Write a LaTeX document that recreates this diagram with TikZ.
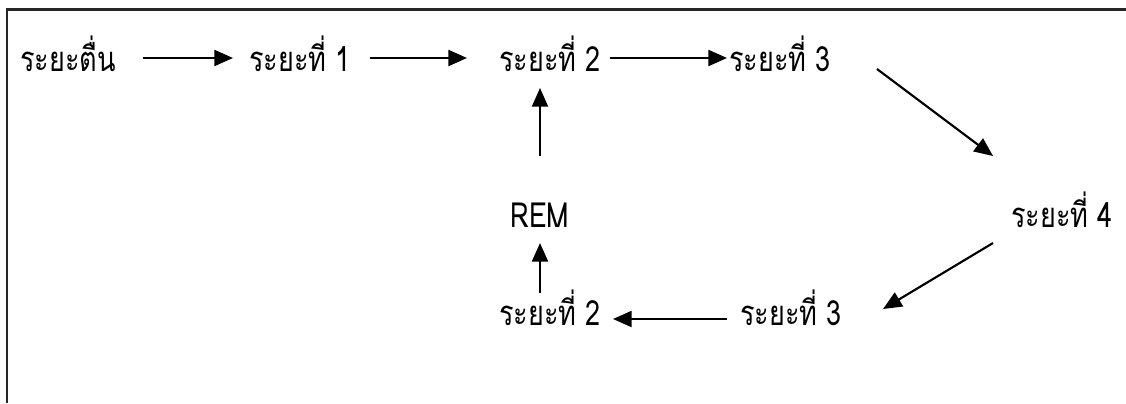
\documentclass[tikz,border=0pt]{standalone}
\usepackage{fontspec}
\newfontfamily\thaifont[Script=Thai,FakeStretch=0.78]{Loma}
\usetikzlibrary{arrows.meta,calc}

\tikzset{
  lbl/.style={inner sep=0pt, anchor=base, font=\thaifont\fontsize{26pt}{30pt}\selectfont},
  arr/.style={line width=1.6pt, -{Triangle[length=14pt,width=12pt]}},
  frame/.style={line width=1.6pt, draw=black!85}
}

\begin{document}
\begin{tikzpicture}[x=0.75pt,y=-0.75pt]
  \useasboundingbox (0,0) rectangle (1126,403);
  % open frame: top and left edges only
  \draw[frame] (1126,9.5) -- (7,9.5) -- (7,403);

  % stages
  \node[lbl] (n0) at (68,71) {ระยะตื่น};
  \node[lbl] (n1) at (300,71) {ระยะที่ 1};
  \node[lbl] (n2) at (550,71) {ระยะที่ 2};
  \node[lbl] (n3) at (780,71) {ระยะที่ 3};
  \node[lbl] (n4) at (1062,227) {ระยะที่ 4};
  \node[lbl] (rem) at (540,227) {REM};
  \node[lbl] (b3) at (791,325) {ระยะที่ 3};
  \node[lbl] (b2) at (550,325) {ระยะที่ 2};

  % transitions
  \draw[arr] ($(n0.base)+(75,-13)$) -- ($(n1.base)+(-67,-13)$);
  \draw[arr] ($(n1.base)+(70,-13)$) -- ($(n2.base)+(-83,-13)$);
  \draw[arr] ($(n2.base)+(60,-13)$) -- ($(n3.base)+(-53,-13)$);
  \draw[arr] ($(n3.base)+(97,-2)$) -- ($(n4.base)+(-69,-71)$);
  \draw[arr] ($(n4.base)+(-69,16)$) -- ($(b3.base)+(92,-16)$);
  \draw[arr] ($(b3.base)+(-64,-6)$) -- ($(b2.base)+(63,-6)$);
  \draw[arr] ($(b2.base)+(-10,-32)$) -- ($(rem.base)+(0,16)$);
  \draw[arr] ($(rem.base)+(0,-71)$) -- ($(n2.base)+(-10,17)$);
\end{tikzpicture}
\end{document}
